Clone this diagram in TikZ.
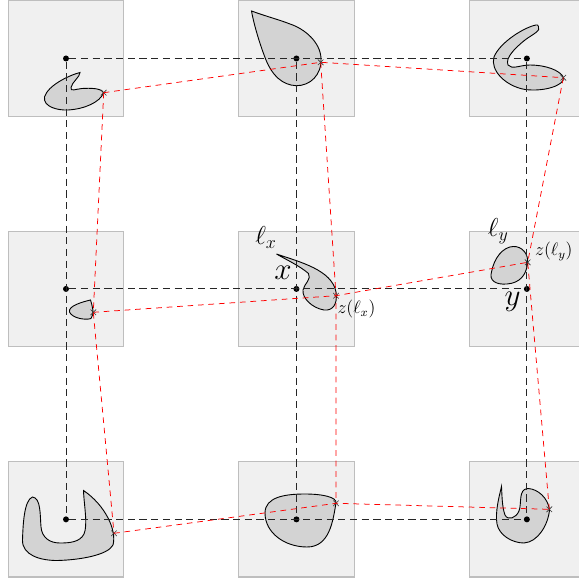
\documentclass[tikz,border=0pt]{standalone}
\usepackage{amsmath}
\usepackage{tikz}
\usetikzlibrary{positioning,shapes.misc}
\definecolor{cellfill} {RGB}{240,240,240}
\definecolor{celldraw} {RGB}{190,190,190}
\definecolor{blobfill} {RGB}{211,211,211}

\begin{document}
\begin{tikzpicture}[
    x=0.667pt, y=-0.667pt,
    node distance = 76.7pt,
    cell/.style={draw=celldraw,fill=cellfill,line width=0.8pt,minimum size=77pt,inner sep=0pt,outer sep=0pt},
    dot/.style={circle,fill=black,inner sep=0pt,minimum size=4pt},
    grid/.style={black!85,dash pattern=on 4.8pt off 3pt,line width=0.6pt},
    zline/.style={red,dash pattern=on 3.8pt off 3.2pt,line width=0.5pt},
    zmark/.style={cross out,draw=black!80,line width=0.4pt,minimum size=3.3pt,inner sep=0pt},
    blob/.style={draw=black,fill=blobfill,line width=0.6pt},
    lbl/.style={font=\LARGE,inner sep=0pt},
    big/.style={font=\huge,inner sep=0pt},
    zlbl/.style={font=\large,inner sep=0pt},
]
    \useasboundingbox (0,0) rectangle (579,583);

    % cells
    \node[cell]              (c11) at (66,58.5) {};
    \node[cell,right=of c11] (c12) {};
    \node[cell,right=of c12] (c13) {};
    \node[cell,below=of c11] (c21) {};
    \node[cell,right=of c21] (c22) {};
    \node[cell,right=of c22] (c23) {};
    \node[cell,below=of c21] (c31) {};
    \node[cell,right=of c31] (c32) {};
    \node[cell,right=of c32] (c33) {};

    % shapes
    \draw[blob] (80,72.5) .. controls (70,75) and (48,85) .. (44.5,97)
        .. controls (43,107) and (58,110.5) .. (68,110)
        .. controls (85,109) and (100,102) .. (103.5,93)
        .. controls (102,88) and (90,88) .. (82,88.5)
        .. controls (76,89) and (70,92) .. (71,87.5)
        .. controls (72,82) and (80,77) .. (80,72.5) -- cycle;
    \draw[blob] (251.5,11) .. controls (265,16) and (280,20) .. (290,24)
        .. controls (305,29) and (320,42) .. (321,58)
        .. controls (322,75) and (310,86) .. (296,85.7)
        .. controls (282,85) and (272,75) .. (266,60)
        .. controls (260,45) and (254,25) .. (251.5,11) -- cycle;
    \draw[blob] (536,25) .. controls (525,27) and (500,42) .. (494,57)
        .. controls (490,70) and (505,86) .. (525,89.5)
        .. controls (545,92) and (565,85) .. (563.5,77.5)
        .. controls (560,70) and (545,65) .. (530,65)
        .. controls (520,65) and (512,70) .. (508,65)
        .. controls (505,58) and (515,48) .. (525,40)
        .. controls (533,34) and (541,31) .. (538.5,26.5)
        .. controls (538,25) and (537,24.5) .. (536,25) -- cycle;
    \draw[blob] (90.5,300) .. controls (92,305) and (95,314) .. (91,318.5)
        .. controls (85,320.5) and (72,318) .. (69.5,312)
        .. controls (68,306) and (82,302) .. (90.5,300) -- cycle;
    \draw[blob] (276.5,254) .. controls (300,262) and (332,270) .. (336,292)
        .. controls (338,305) and (332,311) .. (324,310)
        .. controls (312,308) and (302,298) .. (303,290)
        .. controls (304,284) and (312,279) .. (308.5,273.5)
        .. controls (300,266) and (285,259) .. (276.5,254) -- cycle;
    \draw[blob] (513,246.5) .. controls (522,246) and (529,254) .. (527.5,264)
        .. controls (526,275) and (520,283) .. (507,284)
        .. controls (495,285) and (489,280) .. (491.5,272)
        .. controls (494,258) and (503,247) .. (513,246.5) -- cycle;
    \draw[blob] (32.5,497) .. controls (24,500) and (23,525) .. (22.5,540)
        .. controls (22,555) and (40,560.5) .. (57,560.5)
        .. controls (80,560) and (108,555) .. (113,545)
        .. controls (117,530) and (105,505) .. (83.5,490.5)
        .. controls (84,505) and (88,525) .. (84,534)
        .. controls (80,542) and (70,543) .. (60,543)
        .. controls (50,543) and (42,538) .. (41,527)
        .. controls (40,515) and (41,498) .. (32.5,497) -- cycle;
    \draw[blob] (336,503) .. controls (333,520) and (330,547) .. (307,547)
        .. controls (285,547) and (265,533) .. (265,513)
        .. controls (265,497) and (285,494) .. (305,494)
        .. controls (322,494) and (337,497) .. (336,503) -- cycle;
    \draw[blob] (501.5,486.5) .. controls (499,497) and (495,512) .. (497,524)
        .. controls (499,535) and (512,543) .. (524,543)
        .. controls (538,542) and (548,525) .. (549.5,510)
        .. controls (548,498) and (538,489) .. (528,488.5)
        .. controls (518,489) and (522,503) .. (519,511)
        .. controls (516,518) and (508,521) .. (505,515)
        .. controls (502,507) and (502,495) .. (501.5,486.5) -- cycle;

    % centres
    \foreach \r in {1,2,3}
        \foreach \c in {1,2,3}
            \node[dot] (d\r\c) at (c\r\c) {};

    \foreach \r in {1,2,3}
        \draw[grid] (d\r1) -- (d\r3);
    \foreach \c in {1,2,3}
        \draw[grid] (d1\c) -- (d3\c);

    % z points
    \node[zmark] (z11) at (103.7,92.7)  {};
    \node[zmark] (z12) at (320.7,62.3)  {};
    \node[zmark] (z13) at (563.3,77.7)  {};
    \node[zmark] (z21) at (93.3,312.3)  {};
    \node[zmark] (z22) at (336,295.7)   {};
    \node[zmark] (z23) at (527.7,262.3) {};
    \node[zmark] (z31) at (114,533.3)   {};
    \node[zmark] (z32) at (336,503.3)   {};
    \node[zmark] (z33) at (549.3,509.3) {};

    \foreach \r in {1,2,3}
        \draw[zline] (z\r1.center) -- (z\r2.center) -- (z\r3.center);
    \foreach \c in {1,2,3}
        \draw[zline] (z1\c.center) -- (z2\c.center) -- (z3\c.center);

    % labels
    \node[lbl]  (lx)  at (266,237.5)   {$\ell_x$};
    \node[big]  (x)   at (283,272.5)   {$x$};
    \node[zlbl] (zlx) at (356.5,309)   {$z(\ell_x)$};
    \node[lbl]  (ly)  at (498.3,231)   {$\ell_y$};
    \node[big]  (y)   at (512.5,302)   {$y$};
    \node[zlbl] (zly) at (553.8,251.7) {$z(\ell_y)$};

\end{tikzpicture}
\end{document}
